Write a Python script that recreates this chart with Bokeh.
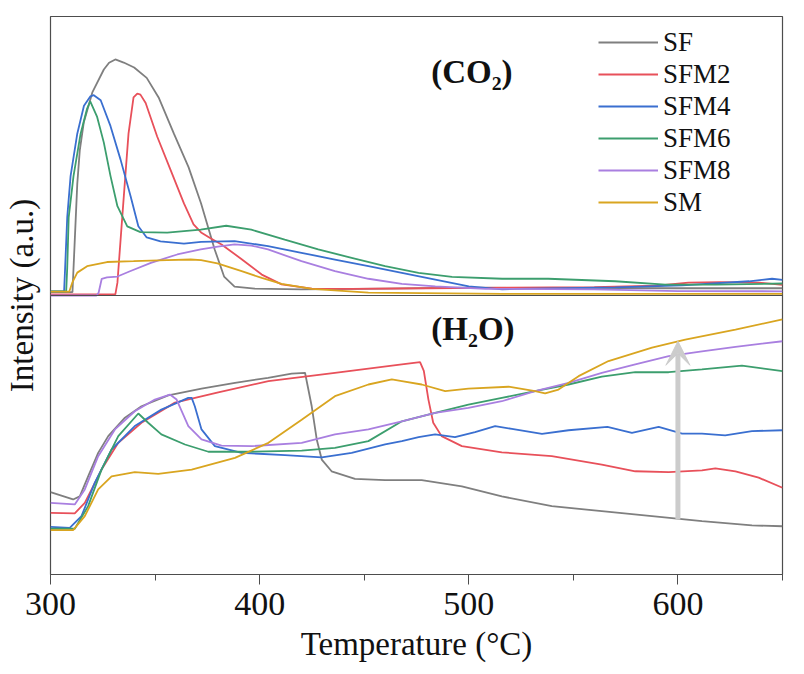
from bokeh.plotting import figure
from bokeh.models import (Span, Label, Legend, LegendItem, Arrow, VeeHead,
                          FixedTicker, Range1d)
from bokeh.embed import file_html
from bokeh.resources import INLINE

# TPD-MS signals, intensity in a.u. (each panel scaled 0-100)
# ---- CO2 panel ----
co2_sf_t = [300, 310.5, 311.5, 312.8, 314, 315.9, 320, 325.5, 328, 331, 335, 340, 346,
            351.7, 359, 366, 372, 378.5, 383, 388, 397.6, 420, 460, 500, 550, 600, 650]
co2_sf = [1.2, 1.2, 18, 40, 52, 62, 72.8, 81, 83.4, 84.6, 83.5, 81.7, 78,
          71, 58, 46, 33, 16.5, 6.8, 3.2, 2.5, 2.2, 2.5, 2.8, 2.7, 2.6, 2.6]

co2_sfm2_t = [300, 331, 332, 334.3, 337.3, 339.7, 341.5, 343, 345.5, 351, 357.4, 363.8,
              368.4, 372, 376.5, 381.8, 391.4, 401, 410.5, 425, 444, 480, 520, 560,
              590, 605, 620, 639, 650]
co2_sfm2 = [0.4, 0.4, 4.6, 28, 58, 71, 72.4, 72, 69, 57, 45, 33,
            25.5, 22.6, 20.5, 18.3, 13, 7.5, 4, 2.5, 2.4, 2.6, 2.8, 3,
            3.5, 4.6, 4.8, 4.6, 3.8]

co2_sfm4_t = [300, 306.5, 307, 308, 309.6, 312.8, 316, 319.1, 320.7, 324, 328.7, 333.5,
              338.3, 342, 346, 352.6, 363.8, 372, 388, 404, 420, 436, 452, 468, 484,
              500, 516, 522, 570, 602, 634, 645, 650]
co2_sfm4 = [1.5, 1.5, 10, 28, 42.8, 58, 68, 71.4, 71.8, 70, 60.7, 48.7,
            35.6, 24.8, 20.8, 19.4, 18.6, 19.2, 19.5, 17.7, 15.3, 12.9, 10.5, 8.1, 5.7,
            3.3, 2.2, 2.4, 2.9, 3.6, 5.1, 6, 5.6]

co2_sfm6_t = [300, 307.5, 308, 308.7, 311, 314.4, 317.5, 319, 322.3, 325.5, 328.7, 332,
              336.7, 343, 355.8, 371.8, 384, 396, 412, 428, 444, 460, 476, 492, 516,
              538, 570, 594, 618, 650]
co2_sfm6 = [1.5, 1.5, 10, 28, 42.8, 58, 67, 69.6, 64, 54.8, 42.8, 32,
            24.8, 22.7, 22.5, 23.6, 25, 23.6, 20, 16.5, 13.5, 10.5, 8.1, 6.7, 6,
            6, 5.1, 3.9, 3.9, 4.3]

co2_sfm8_t = [300, 322, 323, 324.5, 327, 332, 338, 348, 360.6, 371.8, 380, 388, 396,
              404, 420, 436, 452, 468, 484, 508, 560, 600, 650]
co2_sfm8 = [0, 0, 1, 6, 6.5, 6.8, 8.7, 11.7, 14.7, 16.5, 17.5, 18.3, 17.9,
            16.5, 12.3, 8.7, 6, 4.2, 3.3, 2.4, 2.2, 1.6, 1.5]

co2_sm_t = [300, 309, 310.4, 312.8, 317.5, 327, 339.7, 355.8, 367, 372, 379.8, 391.4,
            401, 410.5, 425, 452, 516, 650]
co2_sm = [1.4, 1.4, 4.6, 8.2, 10.5, 12, 12.3, 12.7, 12.9, 12.7, 11.5, 8.7,
          6.3, 4.2, 2.4, 1, 0.6, 0.6]

# ---- H2O panel ----
h2o_sf_t = [300, 310.8, 314, 318, 322.8, 327.6, 335.6, 343.5, 356.3, 372.2, 388.2, 404,
            415.3, 421.7, 424.9, 427.3, 429.7, 434.4, 445.6, 460, 477.5, 496.7, 515.8,
            539.7, 563.6, 587.6, 611.5, 635.4, 650]
h2o_sf = [29.5, 26.9, 28, 35.2, 43.6, 49.6, 56.2, 60.3, 64.2, 66.6, 68.7, 70.5,
          72, 72.3, 60.3, 48.4, 41.2, 37, 34.3, 33.8, 33.8, 31.6, 28,
          24.5, 22.7, 20.9, 19.1, 17.6, 17.3]

h2o_sfm2_t = [300, 311.6, 316.4, 324.4, 332.4, 343.5, 359.5, 380.2, 404.2, 436, 468,
              476.7, 478.5, 480.7, 483, 487, 496.7, 515.8, 539.7, 563.6, 579.6, 595.6,
              611.5, 617.9, 627.5, 638.6, 650]
h2o_sfm2 = [22.1, 21.9, 25.7, 37.6, 47.2, 54.4, 61.6, 65.3, 69.3, 72.3, 75.3,
            76.1, 73, 62.7, 54.4, 49.6, 46, 43.8, 42.4, 39.4, 37, 36.7,
            37.3, 38, 37, 34.7, 31.1]

h2o_sfm4_t = [300, 309.2, 314.8, 321.2, 329.2, 340.3, 353, 365.9, 367.5, 369, 372.2,
              378.6, 391.4, 412.1, 429.7, 444, 460, 468, 476, 483.9, 493.4, 503, 512.6,
              520.6, 535, 547.7, 566.3, 578, 590.8, 602, 611.5, 622.6, 635.4, 650]
h2o_sfm4 = [17.1, 16.7, 20.9, 32.9, 44.8, 53.2, 59.1, 63.3, 63.3, 60.3, 52,
            46, 43.6, 42.8, 42, 43.6, 46.6, 47.8, 49.2, 50.2, 49.2, 51, 53.2,
            52.2, 50.4, 51.7, 52.9, 50.8, 52.9, 50.5, 50.5, 49.9, 51.4, 51.7]

h2o_sfm6_t = [300, 311.6, 318, 324.4, 332.4, 342, 346.7, 353, 364.3, 375.5, 396.2,
              420.1, 436, 452, 468, 483.9, 499.8, 515.8, 531.7, 547.7, 563.6, 579.6,
              595.6, 611.5, 630.6, 650]
h2o_sfm6 = [16.4, 16.4, 24.5, 37.6, 49.6, 57.7, 54.4, 50.2, 46.6, 44, 44,
            44.4, 45.4, 47.8, 54.9, 57.9, 60.9, 63.3, 65.7, 68.1, 70.9, 72.5,
            72.5, 73.5, 74.9, 72.9]

h2o_sfm8_t = [300, 311.6, 316.4, 322.8, 330.8, 340.3, 349.9, 357.1, 360.3, 365.9, 372.2,
              381.8, 396.2, 420.1, 436, 452, 468, 483.9, 499.8, 515.8, 531.7, 547.7,
              563.6, 579.6, 595.6, 611.5, 627.5, 650]
h2o_sfm8 = [25.7, 25.1, 30.5, 42.4, 52, 58.5, 62.7, 64.5, 62.7, 53.2, 48.4,
            46.2, 46, 47.2, 50.2, 52, 54.9, 57.9, 59.7, 62.1, 65.7, 68.7,
            72.3, 75.3, 78.3, 80, 81.6, 83.6]

h2o_sm_t = [300, 310.8, 316.4, 322.8, 329.2, 340.3, 351.5, 367.5, 388.2, 404.2, 420.1,
            436, 452, 463.2, 468, 477.5, 488.7, 499.8, 519, 531.7, 536.5, 542.9, 552.5,
            566.8, 587.6, 603.5, 627.5, 650]
h2o_sm = [15.9, 15.9, 20.9, 30.5, 35.2, 36.7, 36.1, 37.6, 41.8, 47.2, 55.5,
          63.9, 68.1, 69.9, 69.3, 68.1, 65.7, 66.6, 67.3, 65.7, 64.9, 66.3, 71.1,
          76.5, 81.3, 84.2, 87.8, 91.4]

names = ["SF", "SFM2", "SFM4", "SFM6", "SFM8", "SM"]
colors = ["#7f7f7f", "#e8505a", "#3a6fd0", "#3c9e6e", "#a97fe0", "#d9a520"]
co2_series = [(co2_sf_t, co2_sf), (co2_sfm2_t, co2_sfm2), (co2_sfm4_t, co2_sfm4),
              (co2_sfm6_t, co2_sfm6), (co2_sfm8_t, co2_sfm8), (co2_sm_t, co2_sm)]
h2o_series = [(h2o_sf_t, h2o_sf), (h2o_sfm2_t, h2o_sfm2), (h2o_sfm4_t, h2o_sfm4),
              (h2o_sfm6_t, h2o_sfm6), (h2o_sfm8_t, h2o_sfm8), (h2o_sm_t, h2o_sm)]

x_ticks = [300, 400, 500, 600]
x_minor = [350, 450, 550, 650]
arrow_t = 600
arrow_from, arrow_to = 19.7, 83.6

FONT = "Liberation Serif"
FRAME = "#4d4d4d"
TEXT = "#111111"

p = figure(frame_width=732, frame_height=558, output_backend="svg", toolbar_location=None,
           x_range=Range1d(300, 650), y_range=Range1d(0, 200),
           min_border_left=48, min_border_top=16, min_border_right=10, min_border_bottom=10)
p.xgrid.visible = False
p.ygrid.visible = False
p.outline_line_color = FRAME
p.outline_line_width = 1.2

items = []
for name, col, (t1, v1), (t2, v2) in zip(names, colors, co2_series, h2o_series):
    r = p.line(t1, [v + 100 for v in v1], line_color=col, line_width=1.8)
    p.line(t2, v2, line_color=col, line_width=1.8)
    items.append(LegendItem(label=name, renderers=[r]))

# divider between the two panels
p.add_layout(Span(location=100, dimension="width", line_color=FRAME, line_width=1.2))

p.add_layout(Arrow(end=VeeHead(size=24, fill_color="#cccccc", line_color="#cccccc"),
                   x_start=arrow_t, y_start=arrow_from, x_end=arrow_t, y_end=arrow_to,
                   line_color="#cccccc", line_width=5))

p.add_layout(Label(x=501.5, y=180, text="(CO₂)", text_align="center", text_baseline="middle",
                   text_font=FONT, text_font_style="bold", text_font_size="33px",
                   text_color=TEXT))
p.add_layout(Label(x=502, y=88, text="(H₂O)", text_align="center", text_baseline="middle",
                   text_font=FONT, text_font_style="bold", text_font_size="33px",
                   text_color=TEXT))

legend = Legend(items=items, location=(548, 356), glyph_width=60, glyph_height=32,
                label_height=32, spacing=0, padding=0, margin=0, label_standoff=5,
                label_text_font=FONT, label_text_font_size="27px", label_text_color=TEXT,
                border_line_color=None, background_fill_alpha=0)
p.add_layout(legend)

p.xaxis.ticker = FixedTicker(ticks=x_ticks, minor_ticks=x_minor)
p.xaxis.axis_label = "Temperature (°C)"
p.xaxis.axis_label_text_font = FONT
p.xaxis.axis_label_text_font_style = "normal"
p.xaxis.axis_label_text_font_size = "33px"
p.xaxis.axis_label_text_color = TEXT
p.xaxis.axis_label_standoff = 8
p.xaxis.major_label_text_font = FONT
p.xaxis.major_label_text_font_size = "34px"
p.xaxis.major_label_text_color = TEXT
p.xaxis.major_label_standoff = 8
p.xaxis.major_tick_out = 10
p.xaxis.major_tick_in = 0
p.xaxis.minor_tick_out = 6
p.xaxis.minor_tick_in = 0
p.xaxis.axis_line_color = FRAME
p.xaxis.major_tick_line_color = FRAME
p.xaxis.minor_tick_line_color = FRAME

p.yaxis.ticker = FixedTicker(ticks=[])
p.yaxis.axis_label = "Intensity (a.u.)"
p.yaxis.axis_label_text_font = FONT
p.yaxis.axis_label_text_font_style = "normal"
p.yaxis.axis_label_text_font_size = "33px"
p.yaxis.axis_label_text_color = TEXT
p.yaxis.axis_label_standoff = 11
p.yaxis.axis_line_color = None
p.yaxis.major_tick_line_color = None
p.yaxis.minor_tick_line_color = None

open("out.html", "w").write(file_html(p, INLINE))
